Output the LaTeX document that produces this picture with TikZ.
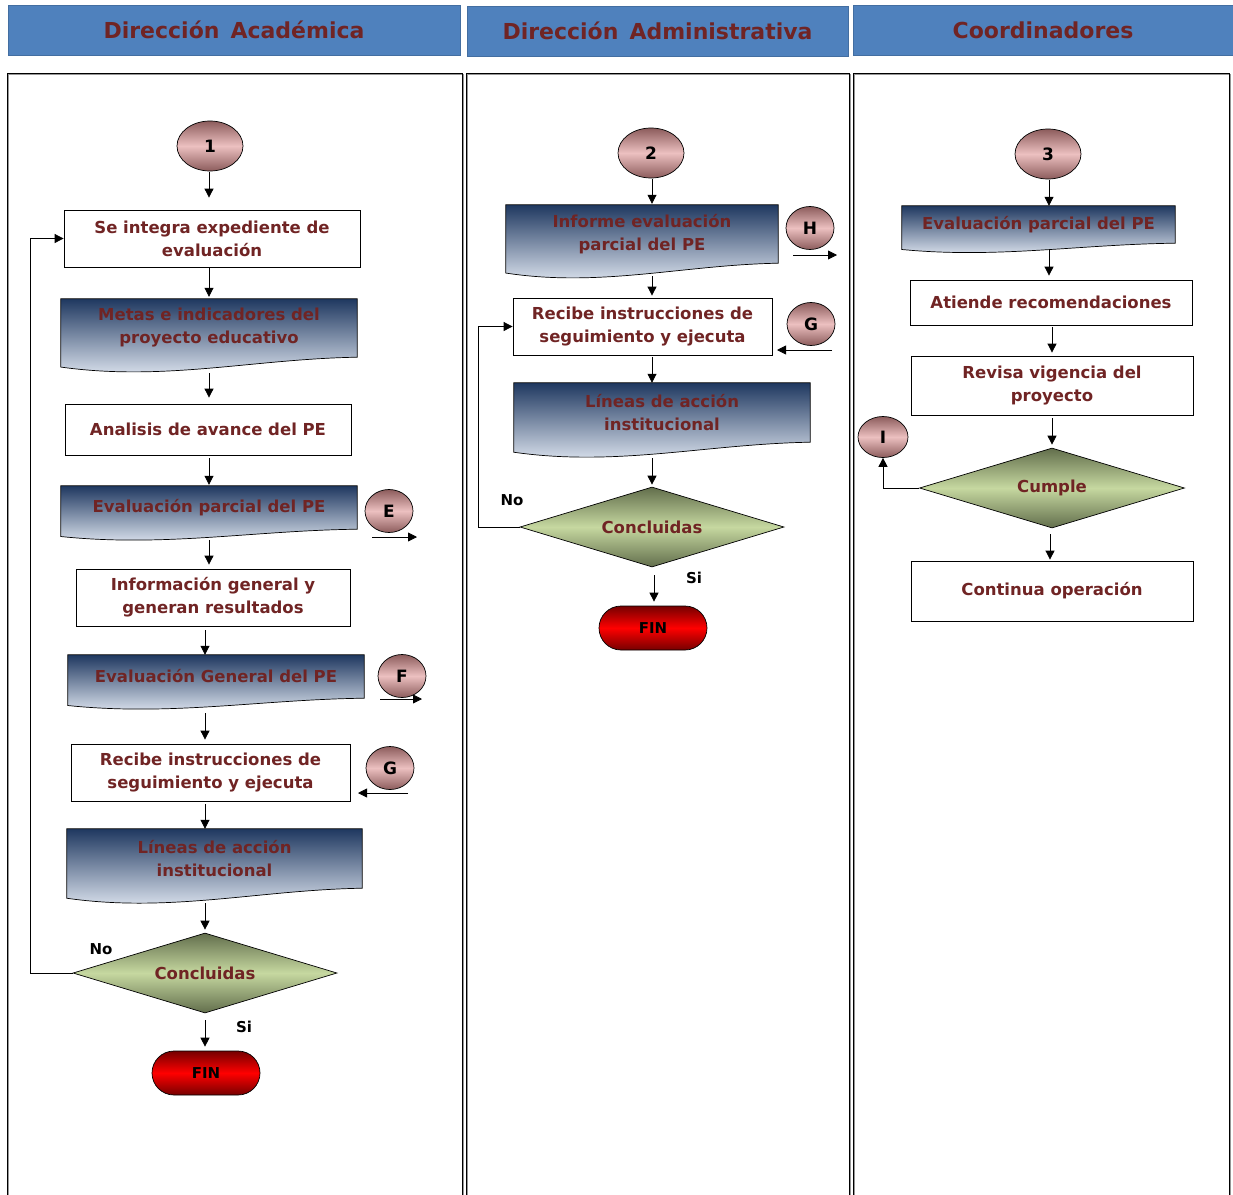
\documentclass[tikz,border=0pt]{standalone}
\usepackage{fontspec}
\setmainfont{DejaVu Sans}
\usetikzlibrary{arrows.meta,shapes.geometric,calc,backgrounds}

\definecolor{txtred}{RGB}{112,36,36}
\definecolor{hdrblue}{RGB}{79,129,189}
\definecolor{docdark}{RGB}{31,56,96}
\definecolor{doclight}{RGB}{233,239,248}
\definecolor{pinkmid}{RGB}{236,192,192}
\definecolor{pinkedge}{RGB}{140,92,92}
\definecolor{greenmid}{RGB}{198,216,160}
\definecolor{greenedge}{RGB}{98,110,76}
\definecolor{redmid}{RGB}{255,0,0}
\definecolor{rededge}{RGB}{118,0,0}
\definecolor{shadowgray}{RGB}{150,150,150}

% document symbol with a wavy lower edge, drawn around a text node
\newcommand\docshape[2]{%
  \shadedraw[top color=docdark, bottom color=doclight, draw=black, line width=0.7pt]
    (#1.north west) -- (#1.north east) -- (#1.south east)
    .. controls ($(#1.south west)!0.65!(#1.south east)+(0,{0.03*#2})$)
       and ($(#1.south west)!0.35!(#1.south east)+(0,{0.42*#2})$)
    .. ($(#1.south west)+(0,{0.17*#2})$) -- cycle;}

\begin{document}
\begin{tikzpicture}[x=1pt,y=-1pt,
  lbl/.style={font=\fontsize{16.5}{23}\selectfont\bfseries, text=txtred, align=center},
  procbox/.style={lbl, draw=black, line width=0.8pt, fill=white, inner sep=0pt},
  doctext/.style={lbl, inner sep=0pt},
  hdr/.style={fill=hdrblue, draw=hdrblue!85!black, line width=0.4pt, inner sep=0pt,
    font=\fontsize{22}{26}\selectfont\bfseries, text=txtred},
  conn/.style={ellipse, draw=black, line width=0.7pt, top color=pinkedge, bottom color=pinkedge,
    middle color=pinkmid, inner sep=0pt, font=\fontsize{17}{20}\selectfont\bfseries, text=black},
  bigconn/.style={conn, minimum width=66pt, minimum height=50pt},
  smallconn/.style={conn, minimum width=48pt, minimum height=43pt},
  decision/.style={diamond, aspect=3.3, draw=black, line width=0.7pt, top color=greenedge,
    bottom color=greenedge, middle color=greenmid, inner sep=1pt,
    minimum width=264pt, minimum height=80pt, lbl},
  terminal/.style={rectangle, rounded corners=22pt, draw=black, line width=0.7pt,
    top color=rededge, bottom color=rededge, middle color=redmid,
    minimum width=108pt, minimum height=44pt, inner sep=0pt,
    font=\fontsize{15}{17}\selectfont\bfseries, text=black},
  yesno/.style={font=\fontsize{15}{18}\selectfont\bfseries, text=black, inner sep=0pt},
  arr/.style={-{Triangle[length=9pt,width=9pt]}, line width=0.8pt},
  flow/.style 2 args={arr, shorten <=#1pt, shorten >=#2pt},
  lane/.style={draw=black, line width=1pt},
  laneshadow/.style={draw=shadowgray, line width=1pt}]

\useasboundingbox (0,0) rectangle (1233,1194);

% lane headers
\node[hdr, minimum width=452pt, minimum height=50pt] (h1) at (234,30) {Dirección\hspace{0.5em}Académica};
\node[hdr, minimum width=381pt, minimum height=50pt] (h2) at (657.5,31) {Dirección\hspace{0.5em}Administrativa};
\node[hdr, minimum width=380pt, minimum height=50pt] (h3) at (1043,30) {Coordinadores};

% column guides for the vertical flow
\coordinate (colA1) at (209,0);
\coordinate (colA2) at (205,0);
\coordinate (colB) at (652,0);
\coordinate (colC1) at (1049,0);
\coordinate (colC2) at (1052,0);

% ---------- Dirección Académica ----------
\node[bigconn] (c1) at (210,146) {1};
\node[procbox, minimum width=296pt, minimum height=57pt] (a1) at (212,238.5) {Se integra expediente de\\evaluación};
\node[doctext, minimum width=296pt, minimum height=58pt] (a2) at (209,328) {Metas e indicadores del\\proyecto educativo};
\node[procbox, minimum width=286pt, minimum height=51pt] (a3) at (208,429.5) {Analisis de avance del PE};
\node[doctext, minimum width=296pt, minimum height=43pt] (a4) at (209,507.5) {Evaluación parcial del PE};
\node[smallconn] (cE) at (389,511) {E};
\node[procbox, minimum width=274pt, minimum height=57pt] (a5) at (213,597.5) {Información general y\\generan resultados};
\node[doctext, minimum width=296pt, minimum height=43pt] (a6) at (216,676.5) {Evaluación General del PE};
\node[smallconn] (cF) at (402,676) {F};
\node[procbox, minimum width=279pt, minimum height=57pt] (a7) at (210.5,772.5) {Recibe instrucciones de\\seguimiento y ejecuta};
\node[smallconn] (cG1) at (390,768) {G};
\node[doctext, minimum width=295pt, minimum height=59pt] (a8) at (214.5,858.5) {Líneas de acción\\institucional};
\node[decision] (d1) at (205,973) {Concluidas};
\node[terminal] (f1) at (206,1073) {FIN};
\node[yesno] (no1) at (101,949) {No};
\node[yesno] (si1) at (244,1027) {Si};

% ---------- Dirección Administrativa ----------
\node[bigconn] (c2) at (651,153) {2};
\node[doctext, minimum width=272pt, minimum height=58pt] (b1) at (642,234) {Informe evaluación\\parcial del PE};
\node[smallconn] (cH) at (810,228) {H};
\node[procbox, minimum width=259pt, minimum height=57pt] (b2) at (642.5,326.5) {Recibe instrucciones de\\seguimiento y ejecuta};
\node[smallconn] (cG2) at (811,324) {G};
\node[doctext, minimum width=296pt, minimum height=59pt] (b3) at (662,412.5) {Líneas de acción\\institucional};
\node[decision] (d2) at (652,527) {Concluidas};
\node[terminal] (f2) at (653,628) {FIN};
\node[yesno] (no2) at (512,500) {No};
\node[yesno] (si2) at (694,578) {Si};

% ---------- Coordinadores ----------
\node[bigconn] (c3) at (1048,154) {3};
\node[doctext, minimum width=273pt, minimum height=37pt] (r1) at (1038.5,224.5) {Evaluación parcial del PE};
\node[procbox, minimum width=282pt, minimum height=45pt] (r2) at (1051,302.5) {Atiende recomendaciones};
\node[procbox, minimum width=282pt, minimum height=59pt] (r3) at (1052,385.5) {Revisa vigencia del\\proyecto};
\node[decision, minimum width=265pt] (d3) at (1052,488) {Cumple};
\node[smallconn, minimum width=50pt, minimum height=41pt] (cI) at (883,437) {I};
\node[procbox, minimum width=282pt, minimum height=60pt] (r4) at (1052,591) {Continua operación};

% free ends of the off-page links
\coordinate (Ea) at (372,537);  \coordinate (Eb) at (417,537);
\coordinate (Fa) at (380,699);  \coordinate (Fb) at (422,699);
\coordinate (Ga) at (408,793);  \coordinate (Gb) at (358,793);
\coordinate (Ha) at (793,255);  \coordinate (Hb) at (837,255);
\coordinate (G2a) at (832,350); \coordinate (G2b) at (777,350);

% ---------- connectors, first lane ----------
\draw[flow={1}{12}] (colA1 |- c1.south) -- (colA1 |- a1.north);
\draw[flow={1}{2}]  (colA1 |- a1.south) -- (colA1 |- a2.north);
\draw[flow={16}{6}] (colA1 |- a2.south) -- (colA1 |- a3.north);
\draw[flow={3}{1}]  (colA1 |- a3.south) -- (colA1 |- a4.north);
\draw[flow={11}{4}] (colA1 |- a4.south) -- (colA1 |- a5.north);
\draw[flow={4}{0}]  (colA2 |- a5.south) -- (colA2 |- a6.north);
\draw[flow={15}{4}] (colA2 |- a6.south) -- (colA2 |- a7.north);
\draw[flow={3}{0}]  (colA2 |- a7.south) -- (colA2 |- a8.north);
\draw[flow={15}{3}] (colA2 |- a8.south) -- (colA2 |- d1.north);
\draw[flow={7}{4}]  (colA2 |- d1.south) -- (colA2 |- f1.north);
\draw[arr] (d1.west) -- ++(-42,0) |- (a1.west);
\draw[arr] (Ea) -- (Eb);
\draw[arr] (Fa) -- (Fb);
\draw[arr] (Ga) -- (Gb);

% ---------- connectors, second lane ----------
\draw[flow={1}{1}]  (colB |- c2.south) -- (colB |- b1.north);
\draw[flow={13}{2}] (colB |- b1.south) -- (colB |- b2.north);
\draw[flow={2}{0}]  (colB |- b2.south) -- (colB |- b3.north);
\draw[flow={16}{2}] (colB |- b3.south) -- (colB |- d2.north);
\draw[flow={8}{4}]  ([xshift=2pt]colB |- d2.south) -- ([xshift=2pt]colB |- f2.north);
\draw[arr] (d2.west) -- ++(-41,0) |- (b2.west);
\draw[arr] (Ha) -- (Hb);
\draw[arr] (G2a) -- (G2b);

% ---------- connectors, third lane ----------
\draw[flow={1}{0}]  (colC1 |- c3.south) -- (colC1 |- r1.north);
\draw[flow={7}{4}]  (colC1 |- r1.south) -- (colC1 |- r2.north);
\draw[flow={2}{3}]  (colC2 |- r2.south) -- (colC2 |- r3.north);
\draw[flow={3}{3}]  (colC2 |- r3.south) -- (colC2 |- d3.north);
\draw[flow={6}{1}]  ([xshift=-2pt]colC2 |- d3.south) -- ([xshift=-2pt]colC2 |- r4.north);
\draw[arr] (d3.west) -| (cI.south);

\begin{pgfonlayer}{background}
  % swimlane frames with a soft offset line
  \draw[laneshadow] (8.5,74.5) rectangle (463.5,1210);
  \draw[laneshadow] (467.5,74.5) rectangle (850.5,1210);
  \draw[laneshadow] (854.5,74.5) rectangle (1230.5,1210);
  \draw[lane] (7,73) rectangle (462,1210);
  \draw[lane] (466,73) rectangle (849,1210);
  \draw[lane] (853,73) rectangle (1229,1210);
  % document symbols
  \docshape{a2}{58}
  \docshape{a4}{43}
  \docshape{a6}{43}
  \docshape{a8}{59}
  \docshape{b1}{58}
  \docshape{b3}{59}
  \docshape{r1}{37}
\end{pgfonlayer}
\end{tikzpicture}
\end{document}
